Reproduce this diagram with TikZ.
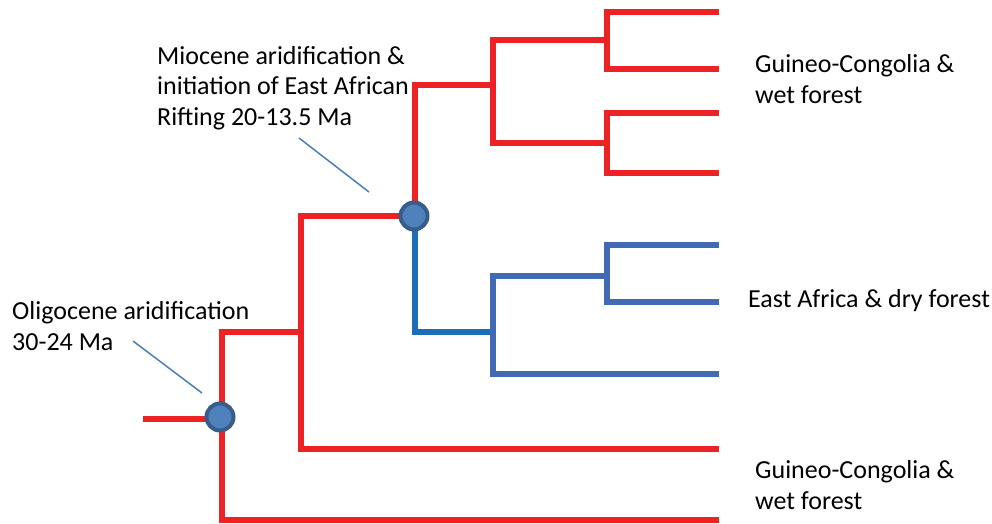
\documentclass[tikz,border=0pt]{standalone}
\usepackage{fontspec}
\setmainfont{Carlito}
\definecolor{tred}{RGB}{237,34,36}
\definecolor{tblue}{RGB}{65,106,180}
\definecolor{cblue}{RGB}{28,110,184}
\definecolor{nfill}{RGB}{79,129,189}
\definecolor{nedge}{RGB}{56,93,138}
\definecolor{lblue}{RGB}{74,126,187}
\tikzset{
  redbr/.style={draw=tred,line width=6pt,line join=miter},
  bluebr/.style={draw=tblue,line width=6pt,line join=miter},
  connbr/.style={draw=cblue,line width=6pt,line join=miter},
  event/.style={circle,fill=nfill,draw=nedge,line width=4pt,minimum size=27pt,inner sep=0pt},
  pointer/.style={draw=lblue,line width=1.5pt},
  lbl/.style={anchor=base west,align=left,inner sep=0pt,font=\fontsize{26}{30.5}\selectfont}
}
\begin{document}
\begin{tikzpicture}[x=1pt,y=-1pt]
\useasboundingbox (0,0) rectangle (992,524);
% coordinates
\coordinate (R) at (143,419);
\coordinate (Rj) at (222,419);
\coordinate (A) at (222,332);
\coordinate (B) at (222,520);
\coordinate (Bl) at (719,520);
\coordinate (Am) at (301,332);
\coordinate (C) at (301,216);
\coordinate (D) at (301,449);
\coordinate (Dl) at (719,449);
\coordinate (N2) at (415,216);
\coordinate (E) at (415,85);
\coordinate (Em) at (493,85);
\coordinate (F) at (415,332);
\coordinate (Fm) at (493,332);
\coordinate (G) at (493,40);
\coordinate (Gr) at (607,40);
\coordinate (H) at (493,143);
\coordinate (Hr) at (607,143);
\coordinate (I) at (607,12);
\coordinate (Il) at (719,12);
\coordinate (J) at (607,69);
\coordinate (Jl) at (719,69);
\coordinate (K) at (607,113);
\coordinate (Kl) at (719,113);
\coordinate (L) at (607,173);
\coordinate (Ll) at (719,173);
\coordinate (M) at (493,276);
\coordinate (Mr) at (607,276);
\coordinate (N) at (493,374);
\coordinate (Nl) at (719,374);
\coordinate (O) at (607,245);
\coordinate (Ol) at (719,245);
\coordinate (P) at (607,302);
\coordinate (Pl) at (719,302);
% branches
\draw[redbr] (R) -- (Rj);
\draw[redbr] (Am) -- (A) -- (B) -- (Bl);
\draw[redbr] (N2) -- (C) -- (D) -- (Dl);
\draw[redbr] (Em) -- (E) -- (N2);
\draw[connbr] (N2) -- (F) -- (Fm);
\draw[redbr] (Gr) -- (G) -- (H) -- (Hr);
\draw[redbr] (Il) -- (I) -- (J) -- (Jl);
\draw[redbr] (Kl) -- (K) -- (L) -- (Ll);
\draw[bluebr] (Mr) -- (M) -- (N) -- (Nl);
\draw[bluebr] (Ol) -- (O) -- (P) -- (Pl);
% event nodes
\node[event] (n1) at (220,417) {};
\node[event] (n2) at (414,216) {};
% labels (base = baseline of last line)
\node[lbl] (t1) at (157,125) {Miocene aridification \&\\initiation of East African\\Rifting 20-13.5 Ma};
\node[lbl] (t2) at (12,350) {Oligocene aridification\\30-24 Ma};
\node[lbl] (t3) at (755,103) {Guineo-Congolia \&\\wet forest};
\node[lbl] (t4) at (748,307) {East Africa \& dry forest};
\node[lbl] (t5) at (755,509) {Guineo-Congolia \&\\wet forest};
% pointers
\coordinate (p1a) at (299,138);
\coordinate (p1b) at (369,192);
\coordinate (p2a) at (133,341);
\coordinate (p2b) at (202,393);
\draw[pointer] (p1a) -- (p1b);
\draw[pointer] (p2a) -- (p2b);
\end{tikzpicture}
\end{document}
